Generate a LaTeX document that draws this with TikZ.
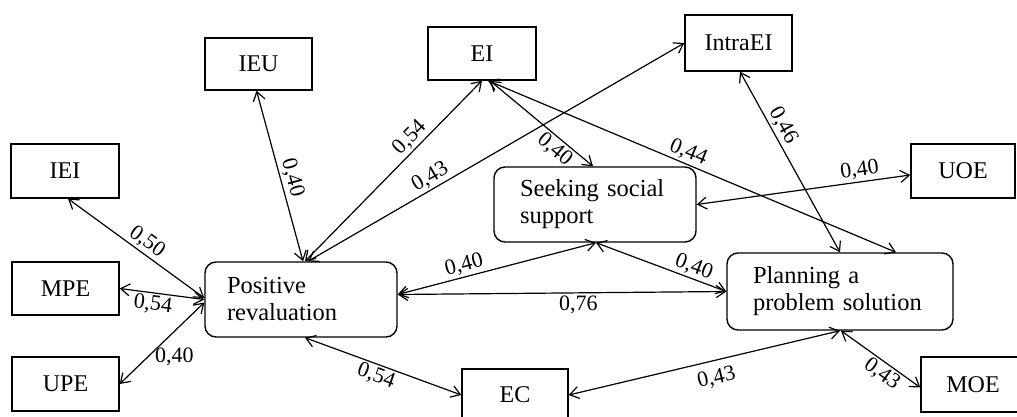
\documentclass[tikz,border=0pt]{standalone}
\usepackage{fontspec}
\setmainfont{Liberation Serif}
\usetikzlibrary{arrows.meta,calc}
\begin{document}
\begin{tikzpicture}[x=1pt,y=-1pt,
  box/.style={draw, line width=1.4pt, inner sep=0pt, font=\fontsize{24}{27}\selectfont},
  rbox/.style={draw, line width=1.4pt, rounded corners=11pt, inner ysep=0pt, align=left, font=\fontsize{24.5}{27}\selectfont},
  link/.style={line width=1.2pt, {Straight Barb[length=9pt,width=12pt]}-{Straight Barb[length=9pt,width=12pt]}},
  lab/.style={font=\fontsize{22}{24}\selectfont, inner sep=2pt}]
\useasboundingbox (0,0) rectangle (1017,417);
\clip (0,0) rectangle (1017,417);
% boxes
\node[box, minimum width=107, minimum height=52] (ieu) at (258.5,64) {IEU};
\node[box, minimum width=108, minimum height=53] (ei) at (482,53.5) {EI};
\node[box, minimum width=107, minimum height=56] (intra) at (738.5,43) {IntraEI};
\node[box, minimum width=108, minimum height=54] (iei) at (65,171) {IEI};
\node[box, minimum width=107, minimum height=53] (mpe) at (65.5,288.5) {MPE};
\node[box, minimum width=107, minimum height=54] (upe) at (65.5,384) {UPE};
\node[box, minimum width=104, minimum height=54] (uoe) at (963,171) {UOE};
\node[box, minimum width=106, minimum height=52] (ec) at (515,395) {EC};
\node[box, minimum width=104, minimum height=55] (moe) at (973,384.5) {MOE};
\node[rbox, inner xsep=22pt, text width=148pt, minimum height=75] (pr) at (301,299.5) {Positive\\revaluation};
\node[rbox, inner xsep=26pt, text width=150pt, minimum height=75] (sss) at (595,204.5) {Seeking social\\support};
\node[rbox, inner xsep=26pt, text width=174pt, minimum height=77] (pps) at (840,291.5) {Planning a\\problem solution};
% connectors
\draw[link] ($(ieu.south)+(-2,0)$) -- node[lab, sloped, above, pos=0.53] {0,40} ($(pr.north)+(2,0)$);
\draw[link] (ei.south) -- node[lab, sloped, above, pos=0.36] {0,54} ($(pr.north)+(4,0)$);
\draw[link] (intra.west) -- node[lab, sloped, above, pos=0.66] {0,43} ($(pr.north)+(7,0)$);
\draw[link] ($(ei.south)+(8,0)$) -- node[lab, sloped, below, pos=0.70] {0,40} ($(sss.north)+(-2,0)$);
\draw[link] ($(ei.south)+(6,0)$) -- node[lab, sloped, above, pos=0.48] {0,44} ($(pps.north)+(56,0)$);
\draw[link] ($(intra.south)+(1.5,0)$) -- node[lab, sloped, above, pos=0.33] {0,46} (pps.north);
\draw[link] ($(uoe.west)+(0,4)$) -- node[lab, sloped, above, pos=0.23] {0,40} (sss.east);
\draw[link] ($(iei.south)+(3,0)$) -- node[lab, sloped, above, pos=0.53] {0,50} ($(pr.west)+(0,-1.5)$);
\draw[link] (mpe.east) -- node[lab, sloped, below, pos=0.41] {0,54} (pr.west);
\draw[link] (upe.east) -- node[lab, anchor=west, pos=0.33, xshift=5pt] {0,40} ($(pr.west)+(0,3)$);
\draw[link] ($(pr.east)+(0,-5)$) -- node[lab, sloped, above, pos=0.35] {0,40} ($(sss.south)+(1,0)$);
\draw[link] ($(pr.east)+(0,-5)$) -- node[lab, below, pos=0.55] {0,76} (pps.west);
\draw[link] ($(sss.south)+(1,0)$) -- node[lab, sloped, above, pos=0.72] {0,40} (pps.west);
\draw[link] ($(pr.south)+(4,0)$) -- node[lab, sloped, below, pos=0.48] {0,54} (ec.west);
\draw[link] (ec.east) -- node[lab, sloped, below=6pt, pos=0.53] {0,43} (pps.south);
\draw[link] ($(pps.south)+(1,0)$) -- node[lab, sloped, below=0pt, pos=0.6] {0,43} ($(moe.west)+(0,3)$);
\end{tikzpicture}
\end{document}
